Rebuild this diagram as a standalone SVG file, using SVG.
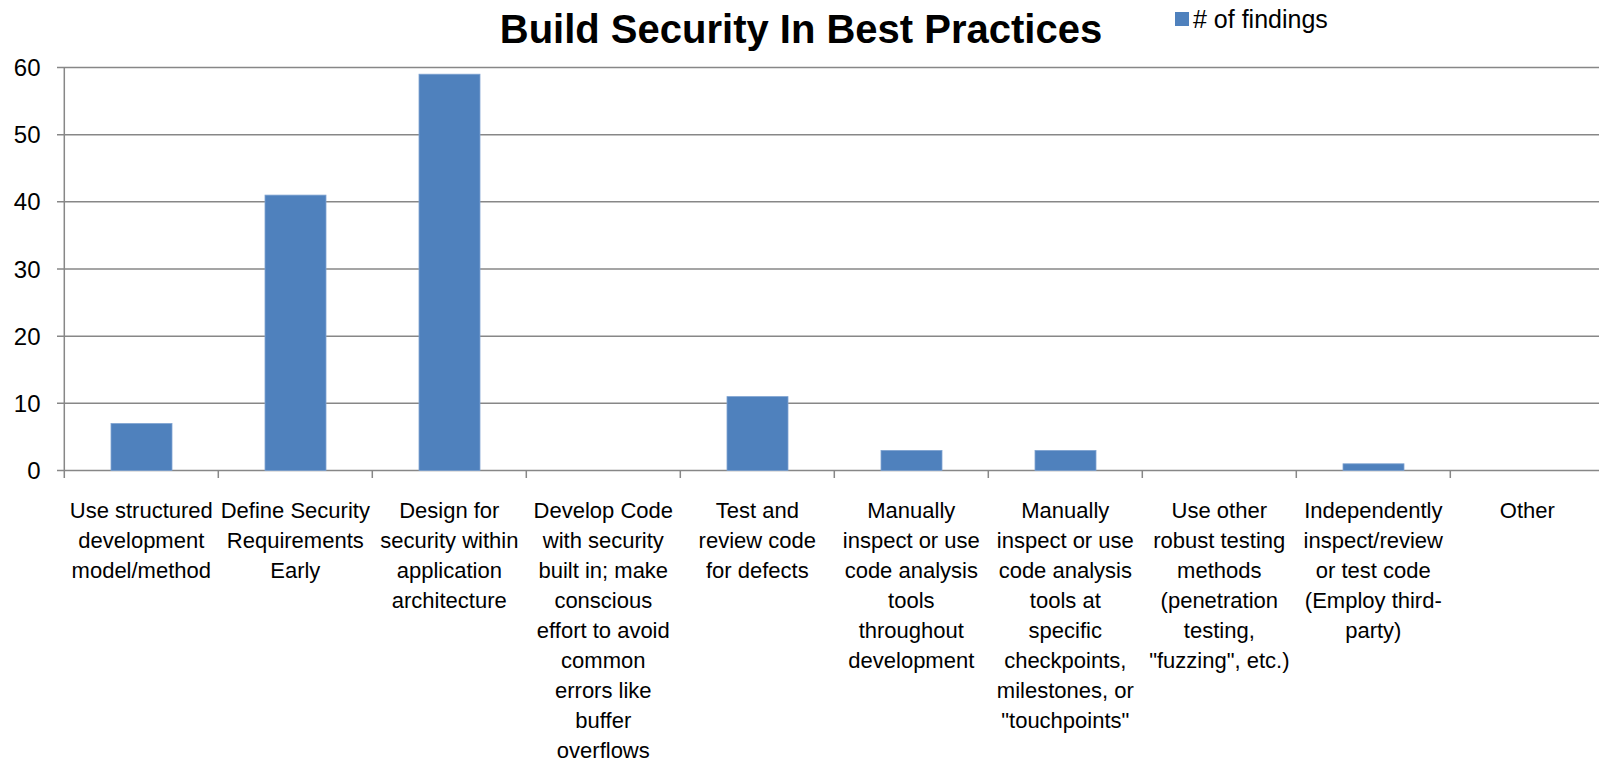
<svg xmlns="http://www.w3.org/2000/svg" width="1599" height="763" viewBox="0 0 1599 763">
  <style>
    .grid { stroke: #878787; stroke-width: 1.5; fill: none; }
    .bar { fill: #4F81BD; stroke: #7FA3D1; stroke-width: 0.8; }
    .title { font-family: "Liberation Sans", Arial, sans-serif; font-weight: bold; font-size: 40px; fill: #000; text-anchor: middle; }
    .ylab { font-family: "Liberation Sans", Arial, sans-serif; font-size: 24px; fill: #000; text-anchor: end; }
    .xlab { font-family: "Liberation Sans", Arial, sans-serif; font-size: 22px; fill: #000; text-anchor: middle; }
    .legend { font-family: "Liberation Sans", Arial, sans-serif; font-size: 25px; fill: #000; }
  </style>
  <rect width="1599" height="763" fill="#fff"/>

  <!-- chart title -->
  <text class="title" x="801" y="43">Build Security In Best Practices</text>

  <!-- legend -->
  <g id="legend">
    <rect x="1175" y="12" width="14" height="14" fill="#4F81BD"/>
    <text class="legend" x="1193" y="28"># of findings</text>
  </g>

  <!-- gridlines and axes -->
  <g id="axes" class="grid">
    <line x1="57" y1="67.5" x2="1599" y2="67.5"/>
    <line x1="57" y1="134.7" x2="1599" y2="134.7"/>
    <line x1="57" y1="201.8" x2="1599" y2="201.8"/>
    <line x1="57" y1="269" x2="1599" y2="269"/>
    <line x1="57" y1="336.2" x2="1599" y2="336.2"/>
    <line x1="57" y1="403.3" x2="1599" y2="403.3"/>
    <line x1="57" y1="470.5" x2="1599" y2="470.5"/>
    <line x1="64.3" y1="67.5" x2="64.3" y2="478"/>
    <line x1="218.3" y1="470.5" x2="218.3" y2="478"/>
    <line x1="372.3" y1="470.5" x2="372.3" y2="478"/>
    <line x1="526.3" y1="470.5" x2="526.3" y2="478"/>
    <line x1="680.3" y1="470.5" x2="680.3" y2="478"/>
    <line x1="834.3" y1="470.5" x2="834.3" y2="478"/>
    <line x1="988.3" y1="470.5" x2="988.3" y2="478"/>
    <line x1="1142.3" y1="470.5" x2="1142.3" y2="478"/>
    <line x1="1296.3" y1="470.5" x2="1296.3" y2="478"/>
    <line x1="1450.3" y1="470.5" x2="1450.3" y2="478"/>
  </g>

  <!-- value axis labels -->
  <g id="y-labels">
    <text class="ylab" x="40.5" y="76">60</text>
    <text class="ylab" x="40.5" y="143.2">50</text>
    <text class="ylab" x="40.5" y="210.3">40</text>
    <text class="ylab" x="40.5" y="277.5">30</text>
    <text class="ylab" x="40.5" y="344.7">20</text>
    <text class="ylab" x="40.5" y="411.8">10</text>
    <text class="ylab" x="40.5" y="479">0</text>
  </g>

  <!-- bars: 6.717 px per finding, baseline y=470.5 -->
  <g id="bars">
    <rect id="bar-1" class="bar" x="111" y="423.5" width="61" height="47"/>
    <rect id="bar-2" class="bar" x="265" y="195.1" width="61" height="275.4"/>
    <rect id="bar-3" class="bar" x="419" y="74.2" width="61" height="396.3"/>
    <rect id="bar-5" class="bar" x="727" y="396.6" width="61" height="73.9"/>
    <rect id="bar-6" class="bar" x="881" y="450.4" width="61" height="20.1"/>
    <rect id="bar-7" class="bar" x="1035" y="450.4" width="61" height="20.1"/>
    <rect id="bar-9" class="bar" x="1343" y="463.8" width="61" height="6.7"/>
  </g>

  <!-- category labels -->
  <g id="x-labels">
    <text class="xlab" x="141.3" y="518"><tspan x="141.3">Use structured</tspan><tspan x="141.3" dy="30">development</tspan><tspan x="141.3" dy="30">model/method</tspan></text>
    <text class="xlab" x="295.3" y="518"><tspan x="295.3">Define Security</tspan><tspan x="295.3" dy="30">Requirements</tspan><tspan x="295.3" dy="30">Early</tspan></text>
    <text class="xlab" x="449.3" y="518"><tspan x="449.3">Design for</tspan><tspan x="449.3" dy="30">security within</tspan><tspan x="449.3" dy="30">application</tspan><tspan x="449.3" dy="30">architecture</tspan></text>
    <text class="xlab" x="603.3" y="518"><tspan x="603.3">Develop Code</tspan><tspan x="603.3" dy="30">with security</tspan><tspan x="603.3" dy="30">built in; make</tspan><tspan x="603.3" dy="30">conscious</tspan><tspan x="603.3" dy="30">effort to avoid</tspan><tspan x="603.3" dy="30">common</tspan><tspan x="603.3" dy="30">errors like</tspan><tspan x="603.3" dy="30">buffer</tspan><tspan x="603.3" dy="30">overflows</tspan></text>
    <text class="xlab" x="757.3" y="518"><tspan x="757.3">Test and</tspan><tspan x="757.3" dy="30">review code</tspan><tspan x="757.3" dy="30">for defects</tspan></text>
    <text class="xlab" x="911.3" y="518"><tspan x="911.3">Manually</tspan><tspan x="911.3" dy="30">inspect or use</tspan><tspan x="911.3" dy="30">code analysis</tspan><tspan x="911.3" dy="30">tools</tspan><tspan x="911.3" dy="30">throughout</tspan><tspan x="911.3" dy="30">development</tspan></text>
    <text class="xlab" x="1065.3" y="518"><tspan x="1065.3">Manually</tspan><tspan x="1065.3" dy="30">inspect or use</tspan><tspan x="1065.3" dy="30">code analysis</tspan><tspan x="1065.3" dy="30">tools at</tspan><tspan x="1065.3" dy="30">specific</tspan><tspan x="1065.3" dy="30">checkpoints,</tspan><tspan x="1065.3" dy="30">milestones, or</tspan><tspan x="1065.3" dy="30">"touchpoints"</tspan></text>
    <text class="xlab" x="1219.3" y="518"><tspan x="1219.3">Use other</tspan><tspan x="1219.3" dy="30">robust testing</tspan><tspan x="1219.3" dy="30">methods</tspan><tspan x="1219.3" dy="30">(penetration</tspan><tspan x="1219.3" dy="30">testing,</tspan><tspan x="1219.3" dy="30">"fuzzing", etc.)</tspan></text>
    <text class="xlab" x="1373.3" y="518"><tspan x="1373.3">Independently</tspan><tspan x="1373.3" dy="30">inspect/review</tspan><tspan x="1373.3" dy="30">or test code</tspan><tspan x="1373.3" dy="30">(Employ third-</tspan><tspan x="1373.3" dy="30">party)</tspan></text>
    <text class="xlab" x="1527.3" y="518">Other</text>
  </g>
</svg>
